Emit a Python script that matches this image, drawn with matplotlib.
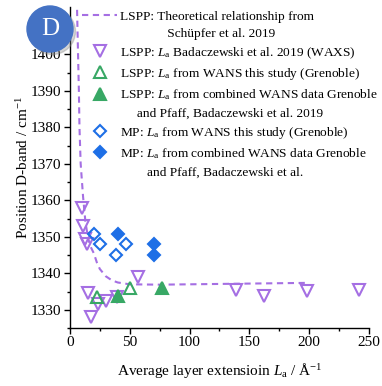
import matplotlib
matplotlib.use("Agg")
import matplotlib.pyplot as plt
from matplotlib.lines import Line2D
from matplotlib.patches import Ellipse
from matplotlib.ticker import MultipleLocator

plt.rcParams["font.family"] = ["Liberation Serif", "DejaVu Serif"]
plt.rcParams["mathtext.fontset"] = "custom"
plt.rcParams["mathtext.rm"] = "Liberation Serif"
plt.rcParams["mathtext.it"] = "Liberation Serif:italic"

# Theoretical relationship (Schüpfer et al. 2019)
theory_la = [5.5, 6.0, 6.8, 7.5, 8.0, 9.0, 11, 13, 15, 17, 20, 22.5, 25, 30, 35, 40, 50, 75, 100, 150, 200]
theory_d = [1420, 1412, 1400, 1390, 1380, 1370, 1361, 1354, 1350, 1347.5, 1345.5, 1343, 1341.2,
            1339.2, 1338.1, 1337.5, 1337.0, 1336.9, 1337.0, 1337.2, 1337.4]

# LSPP: La Badaczewski et al. 2019 (WAXS)
waxs_la = [9.8, 11.2, 12.6, 14.5, 15.0, 17.3, 23.5, 30, 39, 56.5, 138.5, 162, 198, 242]
waxs_d = [1358, 1353, 1349.5, 1348, 1334.7, 1328, 1331.6, 1332.5, 1333.6, 1338.9,
          1335.4, 1333.9, 1335.2, 1335.4]

# LSPP: La from WANS (Grenoble)
lspp_wans_la = [22.5, 50]
lspp_wans_d = [1333.6, 1335.9]

# LSPP: La from combined WANS data
lspp_comb_la = [40, 77]
lspp_comb_d = [1333.9, 1336.0]

# MP: La from WANS (Grenoble)
mp_wans_la = [20.3, 25.5, 38.6, 46.7]
mp_wans_d = [1350.8, 1348.0, 1345.1, 1348.1]

# MP: La from combined WANS data
mp_comb_la = [40.2, 70.2, 70.2]
mp_comb_d = [1350.9, 1348.0, 1344.9]

# Legend rows (continuation lines get an empty handle)
legend_rows = [
    "LSPP: Theoretical relationship from",
    "              Schüpfer et al. 2019",
    "LSPP: $L_\\mathrm{a}$ Badaczewski et al. 2019 (WAXS)",
    "LSPP: $L_\\mathrm{a}$ from WANS this study (Grenoble)",
    "LSPP: $L_\\mathrm{a}$ from combined WANS data Grenoble",
    "     and Pfaff, Badaczewski et al. 2019",
    "MP: $L_\\mathrm{a}$ from WANS this study (Grenoble)",
    "MP: $L_\\mathrm{a}$ from combined WANS data Grenoble",
    "        and Pfaff, Badaczewski et al.",
]

purple = "#A56FE3"
green = "#38A865"
blue = "#1E6FE6"

fig = plt.figure(figsize=(3.82, 3.86), dpi=100)
ax = fig.add_axes([0.183, 0.150, 0.783, 0.832])

h_theory, = ax.plot(theory_la, theory_d, color=purple, lw=1.5, dashes=(3.0, 2.2))
h_waxs, = ax.plot(waxs_la, waxs_d, ls="none", marker="v", ms=8.5, mfc="none", mec=purple, mew=1.5)
h_lw, = ax.plot(lspp_wans_la, lspp_wans_d, ls="none", marker="^", ms=8.5, mfc="none",
                mec=green, mew=1.5)
h_lc, = ax.plot(lspp_comb_la, lspp_comb_d, ls="none", marker="^", ms=8.5, mfc=green,
                mec=green, mew=1.5)
h_mw, = ax.plot(mp_wans_la, mp_wans_d, ls="none", marker="D", ms=6.5, mfc="none",
                mec=blue, mew=1.5)
h_mc, = ax.plot(mp_comb_la, mp_comb_d, ls="none", marker="D", ms=6.5, mfc=blue,
                mec=blue, mew=1.5)

blank = Line2D([], [], ls="none", marker="none")
handles = [h_theory, blank, h_waxs, h_lw, h_lc, blank, h_mw, h_mc, blank]

ax.set_xlim(0, 250)
ax.set_ylim(1325, 1413)
ax.xaxis.set_major_locator(MultipleLocator(50))
ax.xaxis.set_minor_locator(MultipleLocator(25))
ax.yaxis.set_minor_locator(MultipleLocator(5))
ax.set_yticks([1330, 1340, 1350, 1360, 1370, 1380, 1390, 1400])
ax.tick_params(which="major", direction="out", length=4, width=1, labelsize=11, pad=2)
ax.tick_params(which="minor", direction="out", length=2.5, width=1)
for s in ("top", "right"):
    ax.spines[s].set_visible(False)
for s in ("left", "bottom"):
    ax.spines[s].set_linewidth(1)

ax.set_xlabel("Average layer extensioin $L_\\mathrm{a}$ / Å$^{-1}$", fontsize=11, labelpad=8)
ax.set_ylabel("Position D-band / cm$^{-1}$", fontsize=11, labelpad=0)

leg = ax.legend(handles, legend_rows, loc="upper left", bbox_to_anchor=(0.03, 1.0),
                frameon=False, fontsize=9.6, handlelength=2.6, handletextpad=0.2,
                labelspacing=0.39, borderaxespad=0.0, borderpad=0.25)

# Panel badge
fig.add_artist(Ellipse((52.5 / 382, 1 - 31.5 / 386), 46 / 382, 46 / 386,
                       transform=fig.transFigure, color="#888888", alpha=0.35, zorder=9))
fig.add_artist(Ellipse((50 / 382, 1 - 29 / 386), 46 / 382, 46 / 386,
                       transform=fig.transFigure, color="#4472C4", zorder=10))
fig.text(50 / 382, 1 - 29 / 386, "D", color="white", fontsize=18, ha="center", va="center",
         zorder=11)

fig.savefig("out.png", dpi=100)
